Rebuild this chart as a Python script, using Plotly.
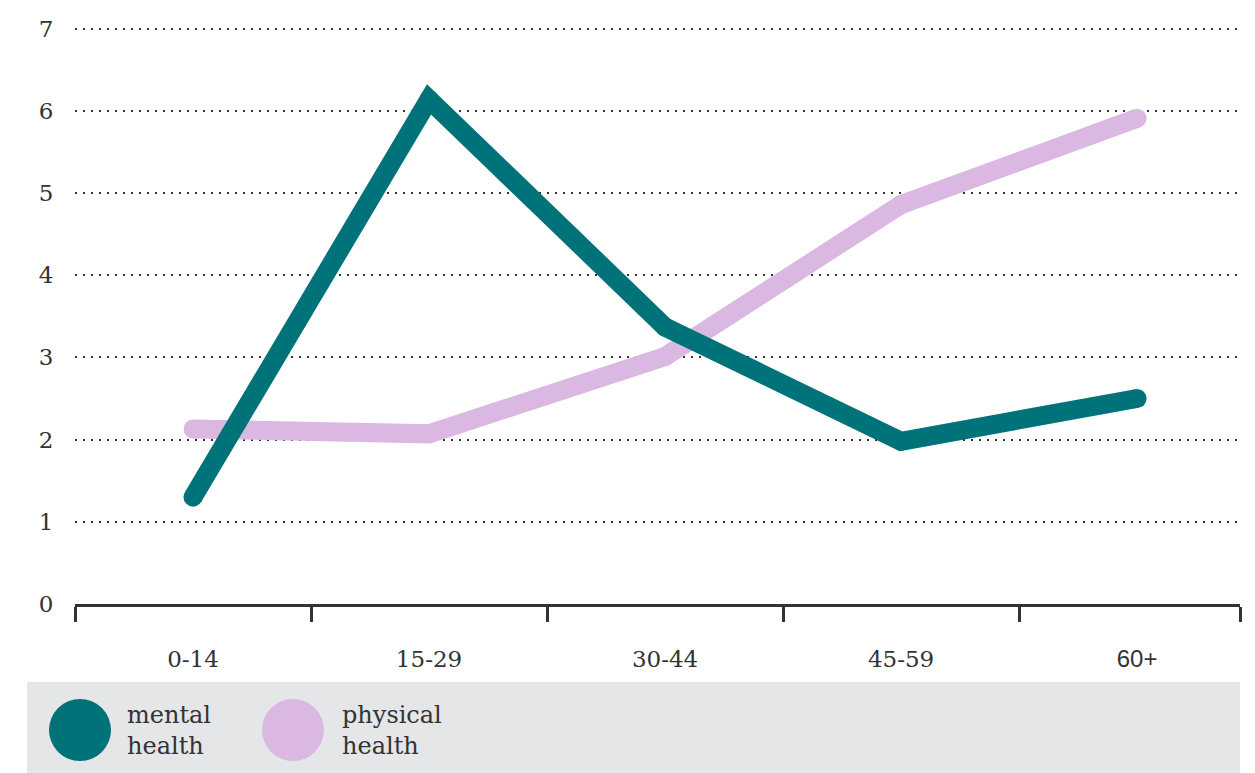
import plotly.graph_objects as go

categories = ["0-14", "15-29", "30-44", "45-59", "60+"]
mental = [1.30, 6.14, 3.37, 1.98, 2.50]
physical = [2.13, 2.07, 3.01, 4.86, 5.91]
y_ticks = [0, 1, 2, 3, 4, 5, 6, 7]

TEAL = "#00727A"
PINK = "#DAB8E2"
TXT = "#333333"
SLAB = "DejaVu Serif, serif"
pos = list(range(len(categories)))
xr = [-0.5, 4.436]
yr = [0, 7.02]

tick_text = [c if c != "60+" else "<span style=\"font-family:'Liberation Sans',Arial,sans-serif;font-size:24px\">60+</span>"
             for c in categories]

fig = go.Figure()
fig.add_trace(go.Scatter(x=pos, y=physical, mode="lines+markers", name="physical health",
                         line=dict(color=PINK, width=19),
                         marker=dict(color=PINK, size=19, line=dict(width=0)),
                         hoverinfo="skip"))
fig.add_trace(go.Scatter(x=pos, y=mental, mode="lines+markers", name="mental health",
                         line=dict(color=TEAL, width=19),
                         marker=dict(color=TEAL, size=19, line=dict(width=0)),
                         hoverinfo="skip"))
# invisible trace to activate secondary x-axis for boundary ticks
fig.add_trace(go.Scatter(x=[xr[0]], y=[None], xaxis="x2", showlegend=False, hoverinfo="skip"))

T = 27
B = 169
fig.update_layout(
    width=1255, height=773,
    margin=dict(l=75, r=15, t=T, b=B),
    paper_bgcolor="white", plot_bgcolor="white",
    showlegend=False,
    font=dict(family=SLAB, color=TXT, size=23),
    xaxis=dict(range=xr, tickmode="array", tickvals=pos, ticktext=tick_text,
               showgrid=False, zeroline=False, showline=False,
               ticks="outside", ticklen=34, tickcolor="rgba(0,0,0,0)",
               tickfont=dict(family=SLAB, size=23, color=TXT)),
    xaxis2=dict(range=xr, overlaying="x", side="bottom", anchor="y",
                tickmode="array", tickvals=[-0.5, 0.5, 1.5, 2.5, 3.5, xr[1]],
                showticklabels=False, ticks="outside", ticklen=15, tickwidth=3,
                tickcolor=TXT, showline=True, linewidth=3, linecolor=TXT,
                showgrid=False, zeroline=False),
    yaxis=dict(range=yr, tickmode="array", tickvals=y_ticks,
               showgrid=True, gridcolor=TXT, gridwidth=2, griddash="2px,6px",
               zeroline=False, showline=False,
               ticks="outside", ticklen=16, tickcolor="rgba(0,0,0,0)",
               tickfont=dict(family=SLAB, size=23, color=TXT)),
)

H = 773 - T - B
def px_x(px):
    return (px - 75) / 1165
def px_y(py):
    return (773 - B - py) / H

fig.add_shape(type="rect", xref="paper", yref="paper",
              x0=px_x(27), x1=px_x(1240), y0=px_y(773), y1=px_y(682),
              fillcolor="#E5E6E8", line=dict(width=0), layer="below")
for cx, col in [(80, TEAL), (293, PINK)]:
    fig.add_shape(type="circle", xref="paper", yref="paper",
                  x0=px_x(cx - 31), x1=px_x(cx + 31), y0=px_y(761), y1=px_y(699),
                  fillcolor=col, line=dict(width=0))
for tx, txt in [(125, "mental<br>health"), (340, "physical<br>health")]:
    fig.add_annotation(xref="paper", yref="paper", x=px_x(tx), y=px_y(730),
                       xanchor="left", yanchor="middle", showarrow=False, align="left",
                       text=txt, font=dict(family=SLAB, size=24, color=TXT))

fig.write_html("out.html")
